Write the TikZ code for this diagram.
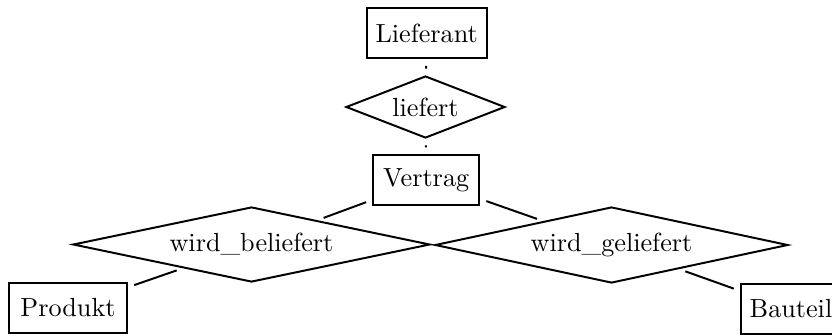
\documentclass[tikz,border=0pt]{standalone}
\usetikzlibrary{shapes.geometric}
\begin{document}
\begin{tikzpicture}[x=0.3818pt,y=-0.3818pt,
  ent/.style={draw, line width=0.75pt, inner sep=0pt, minimum height=19.09pt},
  rel/.style={draw, diamond, line width=0.75pt, inner sep=0pt},
  conn/.style={line width=0.75pt, shorten >=2.5pt, shorten <=2.5pt}]
\useasboundingbox (0,0) rectangle (832,335);
\clip (0,0) rectangle (832,335);
\node[ent, minimum width=45.82pt] (lief) at (426.7,33.3) {Lieferant};
\node[rel, aspect=2.56, minimum width=60.71pt, minimum height=23.67pt] (liefert) at (425.5,107) {liefert};
\node[ent, minimum width=40.47pt] (vertrag) at (426.2,180) {Vertrag};
\node[rel, aspect=4.76, minimum width=136.3pt, minimum height=28.64pt] (bel) at (251.5,244.5) {wird\_beliefert};
\node[rel, aspect=4.64, minimum width=134.77pt, minimum height=29.02pt] (gel) at (611.5,245) {wird\_geliefert};
\node[ent, minimum width=45.05pt] (prod) at (68,308) {Produkt};
\node[ent, minimum width=38.18pt] (bau) at (791,309) {Bauteil};
\draw[conn] (lief) -- (liefert);
\draw[conn] (liefert) -- (vertrag);
\draw[conn] (vertrag) -- (bel);
\draw[conn] (vertrag) -- (gel);
\draw[conn] (bel) -- (prod);
\draw[conn] (gel) -- (bau);
\end{tikzpicture}
\end{document}
